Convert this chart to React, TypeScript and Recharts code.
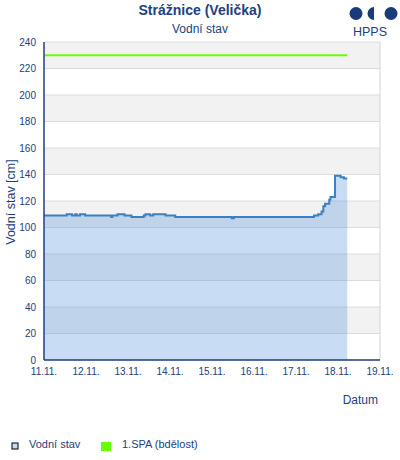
import React from 'react';
import { ComposedChart, Area, Line, XAxis, YAxis, CartesianGrid, ReferenceLine } from 'recharts';

document.body.style.margin = '0';

// x = hours since 11.11. 00:00
const dayTicks = [0, 24, 48, 72, 96, 120, 144, 168, 192];
const dayLabels = ['11.11.', '12.11.', '13.11.', '14.11.', '15.11.', '16.11.', '17.11.', '18.11.', '19.11.'];
const levelTicks = [0, 20, 40, 60, 80, 100, 120, 140, 160, 180, 200, 220, 240];

const levelTimes = [
  0, 13, 16, 17.8, 18.7, 20.6, 23.5, 38.4, 39, 42, 46, 50, 57, 58, 60.6, 62.4, 69.5, 75,
  107.3, 108.5, 154.3, 156.7, 158.6, 159.6, 160.6, 163, 163.7, 166.3, 169.5, 171.4, 173.3,
];
const levelValues = [
  109, 110, 109, 110, 109, 110, 109, 108, 109, 110, 109, 108, 109, 110, 109, 110, 109, 108,
  107, 108, 109, 110, 112, 116, 118, 121, 123, 139, 138, 137, 137,
];
const spaLevel = 230;

const rows = levelTimes.map((t, i) => ({ t, level: levelValues[i], spa: spaLevel }));

const navy = '#203f80';
const font = '"Liberation Sans", Arial, sans-serif';

export default function App() {
  return (
    <div style={{ position: 'relative', width: 400, height: 460, background: '#fff', fontFamily: font }}>
      <ComposedChart width={400} height={460} data={rows} margin={{ top: 42, right: 20, bottom: 80, left: 8 }}>
        <CartesianGrid vertical={false} stroke="#dcdcdc" horizontalFill={['#f2f2f2', '#ffffff']} />
        <XAxis
          type="number"
          dataKey="t"
          domain={[0, 192]}
          ticks={dayTicks}
          interval={0}
          tickFormatter={(v: number) => dayLabels[dayTicks.indexOf(v)]}
          tick={{ fontSize: 10, fill: navy, fontFamily: font }}
          tickLine={false}
          axisLine={{ stroke: navy, strokeWidth: 1.5 }}
          height={20}
        />
        <YAxis
          type="number"
          domain={[0, 240]}
          ticks={levelTicks}
          interval={0}
          tick={{ fontSize: 10, fill: navy, fontFamily: font }}
          tickLine={false}
          axisLine={{ stroke: navy, strokeWidth: 1.5 }}
          width={36}
        />
        <ReferenceLine x={192} stroke="#d4d4d4" />
        <Area
          type="stepAfter"
          dataKey="level"
          stroke="#3a80c2"
          strokeWidth={2}
          fill="#4a90d9"
          fillOpacity={0.3}
          isAnimationActive={false}
          dot={false}
        />
        <Line
          type="linear"
          dataKey="spa"
          stroke="#66ff00"
          strokeWidth={2}
          dot={false}
          isAnimationActive={false}
        />
      </ComposedChart>
      <svg width={400} height={460} style={{ position: 'absolute', left: 0, top: 0, pointerEvents: 'none' }}>
        <g fontFamily={font} fill={navy}>
          <text x={200} y={15} textAnchor="middle" fontSize={14} fontWeight="bold">Strážnice (Velička)</text>
          <text x={200} y={33} textAnchor="middle" fontSize={12}>Vodní stav</text>
          <text transform="translate(15,202) rotate(-90)" textAnchor="middle" fontSize={12.5}>Vodní stav [cm]</text>
          <text x={378} y={404} textAnchor="end" fontSize={12}>Datum</text>
          <text x={29} y={448} fontSize={11}>Vodní stav</text>
          <text x={122} y={448} fontSize={11}>1.SPA (bdělost)</text>
          <text x={370} y={36} textAnchor="middle" fontSize={12.5}>HPPS</text>
        </g>
        <rect x={12} y={443} width={6} height={6} fill="#c6dcf0" stroke="#000" />
        <rect x={101} y={442} width={10} height={9} fill="#66ff00" />
        <g fill="#1a3a7a">
          <circle cx={356} cy={13.5} r={6.5} />
          <path d="M 374 7 A 6.5 6.5 0 0 0 374 20 Z" />
          <circle cx={391} cy={13.5} r={6.5} />
        </g>
      </svg>
    </div>
  );
}
